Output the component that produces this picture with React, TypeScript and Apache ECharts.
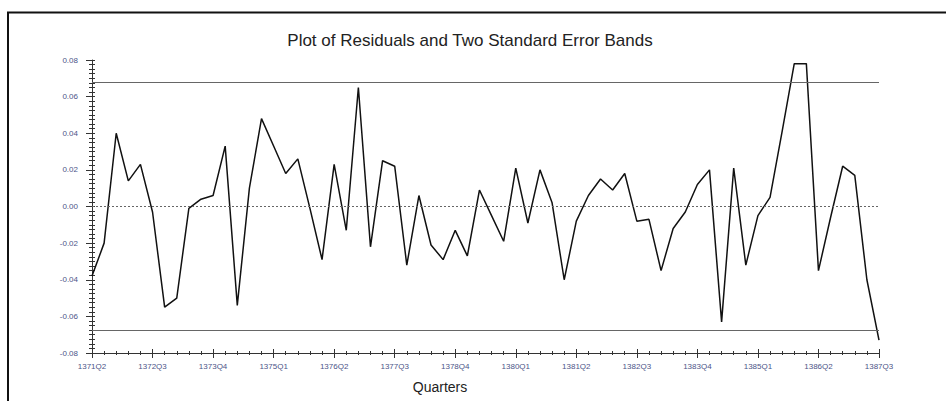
import React, { useEffect, useRef } from "react";
import * as echarts from "echarts";

const quarters: string[] = [
  "1371Q2", "1371Q3", "1371Q4", "1372Q1", "1372Q2", "1372Q3", "1372Q4",
  "1373Q1", "1373Q2", "1373Q3", "1373Q4", "1374Q1", "1374Q2", "1374Q3", "1374Q4",
  "1375Q1", "1375Q2", "1375Q3", "1375Q4", "1376Q1", "1376Q2", "1376Q3", "1376Q4",
  "1377Q1", "1377Q2", "1377Q3", "1377Q4", "1378Q1", "1378Q2", "1378Q3", "1378Q4",
  "1379Q1", "1379Q2", "1379Q3", "1379Q4", "1380Q1", "1380Q2", "1380Q3", "1380Q4",
  "1381Q1", "1381Q2", "1381Q3", "1381Q4", "1382Q1", "1382Q2", "1382Q3", "1382Q4",
  "1383Q1", "1383Q2", "1383Q3", "1383Q4", "1384Q1", "1384Q2", "1384Q3", "1384Q4",
  "1385Q1", "1385Q2", "1385Q3", "1385Q4", "1386Q1", "1386Q2", "1386Q3", "1386Q4",
  "1387Q1", "1387Q2", "1387Q3",
];

const residuals: number[] = [
  -0.038, -0.020, 0.040, 0.014, 0.023, -0.003, -0.055, -0.050, -0.001, 0.004,
  0.006, 0.033, -0.054, 0.010, 0.048, 0.033, 0.018, 0.026, -0.001, -0.029,
  0.023, -0.013, 0.065, -0.022, 0.025, 0.022, -0.032, 0.006, -0.021, -0.029,
  -0.013, -0.027, 0.009, -0.005, -0.019, 0.021, -0.009, 0.020, 0.002, -0.040,
  -0.008, 0.006, 0.015, 0.009, 0.018, -0.008, -0.007, -0.035, -0.012, -0.003,
  0.012, 0.020, -0.063, 0.021, -0.032, -0.005, 0.005, 0.041, 0.078, 0.078,
  -0.035, -0.006, 0.022, 0.017, -0.040, -0.073,
];

const bandUpper = 0.0676;
const bandLower = -0.0676;
const yMin = -0.08;
const yMax = 0.08;
const yStep = 0.02;

const labelColor = "#4c5488";
const axisColor = "#333";
const font = "Liberation Sans, Arial, sans-serif";

export default function App() {
  const ref = useRef<HTMLDivElement>(null);
  useEffect(() => {
    if (!ref.current) return;
    const chart = echarts.init(ref.current, undefined, { renderer: "svg" });
    const baseX = {
      type: "category" as const,
      data: quarters,
      boundaryGap: false,
      position: "bottom" as const,
      axisLabel: { show: false },
      axisLine: { show: false, onZero: false },
      splitLine: { show: false },
    };
    const baseY = {
      type: "value" as const,
      min: yMin,
      max: yMax,
      interval: yStep,
      position: "left" as const,
      axisLabel: { show: false },
      axisLine: { show: false, onZero: false },
      splitLine: { show: false },
    };
    chart.setOption({
      animation: false,
      backgroundColor: "#fff",
      title: {
        text: "Plot of Residuals and Two Standard Error Bands",
        left: 465,
        textAlign: "center",
        top: 27,
        textStyle: {
          fontFamily: font,
          fontSize: 17,
          fontWeight: "normal",
          color: "#222",
        },
      },
      grid: { left: 92, right: 67, top: 60, bottom: 48, containLabel: false },
      xAxis: [
        {
          ...baseX,
          axisLine: { show: true, onZero: false, lineStyle: { color: axisColor, width: 1 } },
          axisLabel: {
            show: true,
            interval: 4,
            color: labelColor,
            fontSize: 8,
            fontFamily: font,
            margin: 9,
          },
          axisTick: { show: true, interval: 4, length: 5, lineStyle: { color: axisColor } },
        },
        {
          ...baseX,
          axisTick: { show: true, interval: 4, inside: true, length: 4, lineStyle: { color: axisColor } },
        },
        {
          ...baseX,
          axisTick: { show: true, interval: 0, length: 2, lineStyle: { color: axisColor } },
        },
        {
          ...baseX,
          axisTick: { show: true, interval: 0, inside: true, length: 2, lineStyle: { color: axisColor } },
        },
      ],
      yAxis: [
        {
          ...baseY,
          axisLine: { show: true, onZero: false, lineStyle: { color: axisColor, width: 1 } },
          axisLabel: {
            show: true,
            color: labelColor,
            fontSize: 8,
            fontFamily: font,
            margin: 14,
            formatter: (v: number) => v.toFixed(2),
          },
          axisTick: { show: true, length: 6, lineStyle: { color: axisColor } },
          minorTick: { show: true, splitNumber: 8, length: 3, lineStyle: { color: axisColor, width: 1 } },
        },
        {
          ...baseY,
          axisTick: { show: true, inside: true, length: 3, lineStyle: { color: axisColor } },
          minorTick: { show: true, splitNumber: 8, length: 3, lineStyle: { color: axisColor, width: 1 } },
        },
      ],
      series: [
        {
          type: "line",
          xAxisIndex: 0,
          yAxisIndex: 0,
          data: residuals,
          showSymbol: false,
          symbol: "none",
          lineStyle: { color: "#111", width: 1.5 },
          markLine: {
            silent: true,
            precision: 4,
            symbol: ["none", "none"],
            label: { show: false },
            data: [
              { yAxis: bandUpper, lineStyle: { color: "#666", type: "solid", width: 1.2 } },
              { yAxis: bandLower, lineStyle: { color: "#666", type: "solid", width: 1.2 } },
              { yAxis: 0, lineStyle: { color: "#666", type: [2, 2], width: 1 } },
            ],
          },
        },
      ],
      graphic: [
        {
          type: "line",
          shape: { x1: 7, y1: 12.5, x2: 946, y2: 12.5 },
          style: { stroke: "#111", lineWidth: 2 },
        },
        {
          type: "line",
          shape: { x1: 8, y1: 12, x2: 8, y2: 401 },
          style: { stroke: "#111", lineWidth: 2 },
        },
        {
          type: "text",
          x: 440,
          y: 387,
          style: {
            text: "Quarters",
            fontSize: 14,
            fontFamily: font,
            fill: "#222",
            align: "center",
            verticalAlign: "middle",
          },
        },
      ],
    });
    return () => chart.dispose();
  }, []);
  return (
    <div
      ref={ref}
      style={{ position: "fixed", left: 0, top: 0, width: 946, height: 401 }}
    />
  );
}
